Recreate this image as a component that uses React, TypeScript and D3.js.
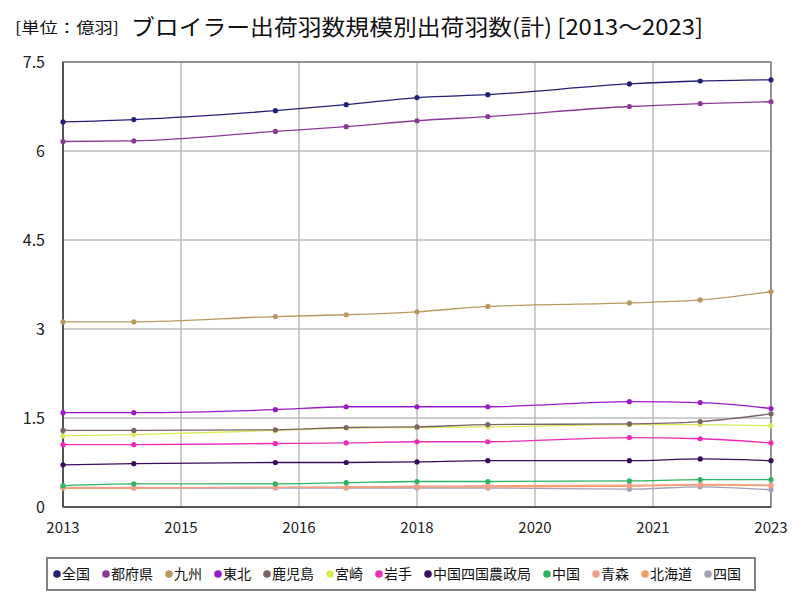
import React, { useRef, useEffect } from "react";
import * as d3 from "d3";

const years = [2013, 2014, 2016, 2017, 2018, 2019, 2021, 2022, 2023];
const xTickLabels = ["2013", "2015", "2016", "2018", "2020", "2021", "2023"];
const yTicks = [0, 1.5, 3, 4.5, 6, 7.5];

const seriesNames = [
  "全国", "都府県", "九州", "東北", "鹿児島", "宮崎",
  "岩手", "中国四国農政局", "中国", "青森", "北海道", "四国",
];
const seriesColors = [
  "#232075", "#8a3a94", "#b79a62", "#9a1cc4", "#7a6464", "#dcea5a",
  "#ec2cb6", "#3a0c5c", "#2ab463", "#f2a08e", "#f2a062", "#a0a2ba",
];

const zenkoku = [6.49, 6.53, 6.68, 6.78, 6.9, 6.95, 7.13, 7.18, 7.2];
const tofuken = [6.16, 6.17, 6.33, 6.41, 6.51, 6.58, 6.75, 6.8, 6.83];
const kyushu = [3.12, 3.12, 3.21, 3.24, 3.29, 3.38, 3.44, 3.49, 3.63];
const tohoku = [1.59, 1.59, 1.64, 1.69, 1.69, 1.69, 1.775, 1.76, 1.66];
const kagoshima = [1.29, 1.29, 1.3, 1.34, 1.35, 1.39, 1.4, 1.44, 1.57];
const miyazaki = [1.2, 1.22, 1.29, 1.33, 1.34, 1.35, 1.39, 1.39, 1.37];
const iwate = [1.05, 1.05, 1.07, 1.08, 1.1, 1.1, 1.17, 1.15, 1.08];
const chugokuShikoku = [0.71, 0.73, 0.75, 0.75, 0.76, 0.78, 0.78, 0.81, 0.78];
const chugoku = [0.36, 0.39, 0.39, 0.41, 0.43, 0.43, 0.44, 0.46, 0.46];
const aomori = [0.33, 0.33, 0.33, 0.34, 0.35, 0.36, 0.37, 0.38, 0.37];
const hokkaido = [0.32, 0.32, 0.33, 0.33, 0.34, 0.34, 0.35, 0.37, 0.36];
const shikoku = [0.32, 0.32, 0.32, 0.32, 0.32, 0.32, 0.3, 0.34, 0.29];

const seriesValues = [
  zenkoku, tofuken, kyushu, tohoku, kagoshima, miyazaki,
  iwate, chugokuShikoku, chugoku, aomori, hokkaido, shikoku,
];

const FONT = "'Noto Sans CJK JP', 'Noto Sans', sans-serif";

export default function App() {
  const svgRef = useRef<SVGSVGElement>(null);

  useEffect(() => {
    if (!svgRef.current) return;
    const width = 800;
    const height = 600;
    const margin = { top: 62, right: 29, bottom: 93, left: 63 };
    const w = width - margin.left - margin.right;
    const h = height - margin.top - margin.bottom;

    const svg = d3.select(svgRef.current);
    svg.selectAll("*").remove();
    svg.attr("width", width).attr("height", height);

    const x = d3.scaleLinear().domain([2013, 2023]).range([0, w]);
    const y = d3.scaleLinear().domain([0, 7.5]).range([h, 0]);
    const xTickValues = xTickLabels.map((_, i) => 2013 + (i * 10) / (xTickLabels.length - 1));

    // title
    svg
      .append("text")
      .attr("x", 15)
      .attr("y", 33)
      .attr("font-size", 15)
      .attr("font-family", FONT)
      .attr("fill", "#111")
      .attr("textLength", 104)
      .attr("lengthAdjust", "spacingAndGlyphs")
      .text("[単位：億羽]");
    svg
      .append("text")
      .attr("x", 131)
      .attr("y", 35)
      .attr("font-size", 22)
      .attr("font-family", FONT)
      .attr("fill", "#111")
      .attr("textLength", 572)
      .attr("lengthAdjust", "spacingAndGlyphs")
      .text("ブロイラー出荷羽数規模別出荷羽数(計) [2013～2023]");

    const chart = svg.append("g").attr("transform", `translate(${margin.left},${margin.top})`);

    // grid
    chart
      .selectAll(".hgrid")
      .data(yTicks)
      .join("line")
      .attr("x1", 0)
      .attr("x2", w)
      .attr("y1", (d) => y(d))
      .attr("y2", (d) => y(d))
      .attr("stroke", "#bdbdbd")
      .attr("stroke-width", 1.5);
    chart
      .selectAll(".vgrid")
      .data(xTickValues)
      .join("line")
      .attr("x1", (d) => x(d))
      .attr("x2", (d) => x(d))
      .attr("y1", 0)
      .attr("y2", h)
      .attr("stroke", "#bdbdbd")
      .attr("stroke-width", 1.5);

    // frame
    chart
      .append("rect")
      .attr("width", w)
      .attr("height", h)
      .attr("fill", "none")
      .attr("stroke", "#808080")
      .attr("stroke-width", 1.5);
    chart.append("line").attr("x1", 0).attr("x2", 0).attr("y1", 0).attr("y2", h).attr("stroke", "#555").attr("stroke-width", 2);
    chart.append("line").attr("x1", 0).attr("x2", w).attr("y1", h).attr("y2", h).attr("stroke", "#555").attr("stroke-width", 2);

    // axis labels
    chart
      .selectAll(".ylab")
      .data(yTicks)
      .join("text")
      .attr("x", -18)
      .attr("y", (d) => y(d) + 6)
      .attr("text-anchor", "end")
      .attr("font-size", 16)
      .attr("font-family", FONT)
      .attr("fill", "#222")
      .text((d) => String(d));
    chart
      .selectAll(".xlab")
      .data(xTickValues)
      .join("text")
      .attr("x", (d) => x(d))
      .attr("y", h + 26)
      .attr("text-anchor", "middle")
      .attr("font-size", 15)
      .attr("font-family", FONT)
      .attr("fill", "#222")
      .text((_, i) => xTickLabels[i]);

    // lines (draw bottom series first)
    const line = d3
      .line<number>()
      .x((_, i) => x(years[i]))
      .y((d) => y(d))
      .curve(d3.curveMonotoneX);

    const order = d3.range(seriesNames.length).reverse();
    order.forEach((s) => {
      const g = chart.append("g");
      g.append("path")
        .attr("d", line(seriesValues[s]))
        .attr("fill", "none")
        .attr("stroke", seriesColors[s])
        .attr("stroke-width", 1.3);
      g.selectAll("circle")
        .data(seriesValues[s])
        .join("circle")
        .attr("cx", (_, i) => x(years[i]))
        .attr("cy", (d) => y(d))
        .attr("r", 2.6)
        .attr("fill", seriesColors[s]);
    });

    // legend
    const legend = svg.append("g");
    legend
      .append("rect")
      .attr("x", 47)
      .attr("y", 558)
      .attr("width", 708)
      .attr("height", 32)
      .attr("fill", "#fff")
      .attr("stroke", "#808080")
      .attr("stroke-width", 2);
    let cx = 57;
    seriesNames.forEach((name, i) => {
      legend.append("circle").attr("cx", cx).attr("cy", 574).attr("r", 3.8).attr("fill", seriesColors[i]);
      legend
        .append("text")
        .attr("x", cx + 5)
        .attr("y", 579)
        .attr("font-size", 14)
        .attr("font-family", FONT)
        .attr("fill", "#111")
        .text(name);
      cx += name.length * 14 + 21;
    });
  }, []);

  return <svg ref={svgRef} style={{ position: "absolute", left: 0, top: 0 }}></svg>;
}
